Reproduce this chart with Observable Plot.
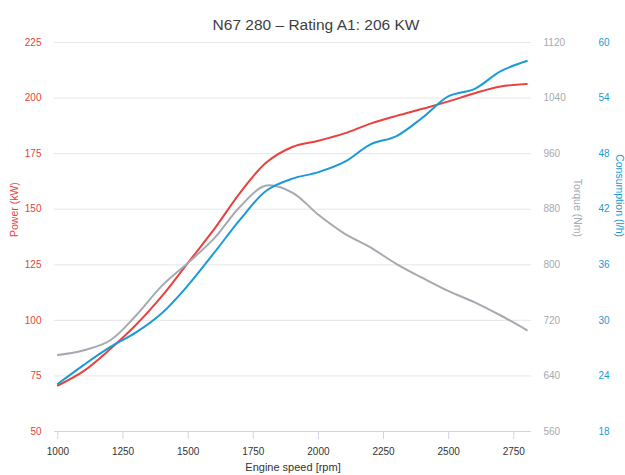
<!DOCTYPE html>
<html>
<head>
<meta charset="utf-8">
<script src="https://cdn.jsdelivr.net/npm/d3@7"></script>
<script src="https://cdn.jsdelivr.net/npm/@observablehq/plot@0.6"></script>
<style>
  html, body { margin: 0; padding: 0; background: #fff; }
  #chart svg { display: block; }
</style>
</head>
<body>
<div id="chart"></div>
<script>
const title = "N67 280 – Rating A1: 206 KW";
const rpm = [1000, 1100, 1200, 1300, 1400, 1500, 1600, 1700, 1800, 1900, 2000, 2100, 2200, 2300, 2400, 2500, 2600, 2700, 2800];
const power = [70.7, 77.3, 87, 98, 111, 126, 141, 157.5, 171, 178, 180.8, 184.1, 188.5, 192, 195.2, 198.5, 202.2, 205.2, 206.3];
const torque = [670, 677, 691, 727, 770, 803, 838, 884, 914, 904, 872, 845, 825, 801, 781, 762, 746, 727, 706];
const consumption = [23.15, 25.2, 27.1, 28.7, 30.8, 33.8, 37.3, 40.9, 44.0, 45.3, 46.0, 47.1, 49.0, 49.9, 51.9, 54.2, 55.0, 56.9, 58.0];
const xTicks = [1000, 1250, 1500, 1750, 2000, 2250, 2500, 2750];
const powerTicks = [50, 75, 100, 125, 150, 175, 200, 225];
const torqueTicks = [560, 640, 720, 800, 880, 960, 1040, 1120];
const consTicks = [18, 24, 30, 36, 42, 48, 54, 60];

const RED = "#e8413e", GRAY = "#a7a9b0", BLUE = "#1a9ad6";
const FONT = "'Liberation Sans', Arial, sans-serif";

// secondary axes share the primary (power) scale through linear maps
const pMin = powerTicks[0], pMax = powerTicks[powerTicks.length - 1];
const tMin = torqueTicks[0], tMax = torqueTicks[torqueTicks.length - 1];
const cMin = consTicks[0], cMax = consTicks[consTicks.length - 1];
const tToP = t => pMin + (t - tMin) * (pMax - pMin) / (tMax - tMin);
const pToT = p => tMin + (p - pMin) * (tMax - tMin) / (pMax - pMin);
const cToP = c => pMin + (c - cMin) * (pMax - pMin) / (cMax - cMin);
const pToC = p => cMin + (p - pMin) * (cMax - cMin) / (pMax - pMin);

const rows = rpm.map((r, i) => ({rpm: r, power: power[i], torque: torque[i], cons: consumption[i]}));

const chart = Plot.plot({
  width: 625,
  height: 475,
  marginLeft: 54,
  marginRight: 94,
  marginTop: 42,
  marginBottom: 44,
  style: {fontFamily: FONT, background: "#fff", overflow: "visible"},
  x: {domain: [987, 2818]},
  y: {domain: [pMin, pMax]},
  marks: [
    Plot.ruleY(powerTicks.slice(1), {stroke: "#e6e6e6", strokeWidth: 1}),
    Plot.ruleY([pMin], {stroke: "#ccd6eb", strokeWidth: 1}),
    Plot.axisX({ticks: xTicks, tickSize: 8, tickPadding: 8, stroke: "#ccd6eb", strokeOpacity: 1,
      tickFormat: d => String(d), fill: "#333", fontSize: 10, label: null}),
    Plot.axisY({anchor: "left", ticks: powerTicks, tickSize: 0, tickPadding: 13,
      tickFormat: d => String(d), fill: RED, fontSize: 10, label: null}),
    Plot.axisY({anchor: "right", ticks: torqueTicks.map(tToP), tickSize: 0, tickPadding: 12,
      tickFormat: d => String(Math.round(pToT(d))), fill: GRAY, fontSize: 10, label: null, textAnchor: "start"}),
    Plot.axisY({anchor: "right", ticks: consTicks.map(cToP), tickSize: 0, tickPadding: 67,
      tickFormat: d => String(Math.round(pToC(d))), fill: BLUE, fontSize: 10, label: null, textAnchor: "start"}),
    Plot.line(rows, {x: "rpm", y: "power", stroke: RED, strokeWidth: 2, curve: "catmull-rom"}),
    Plot.line(rows, {x: "rpm", y: d => tToP(d.torque), stroke: GRAY, strokeWidth: 2, curve: "catmull-rom"}),
    Plot.line(rows, {x: "rpm", y: d => cToP(d.cons), stroke: BLUE, strokeWidth: 2, curve: "catmull-rom"}),
    Plot.text([title], {frameAnchor: "top", dx: 23, dy: -24, fontSize: 15.5, fill: "#3e3e3e", text: d => d}),
    Plot.text(["Power (kW)"], {frameAnchor: "left", dx: -40, rotate: -90, fontSize: 10.5, fill: RED, text: d => d}),
    Plot.text(["Torque (Nm)"], {frameAnchor: "right", dx: 46, rotate: 90, fontSize: 10.5, fill: GRAY, text: d => d}),
    Plot.text(["Consumption (l/h)"], {frameAnchor: "right", dx: 88, rotate: 90, fontSize: 10.5, fill: BLUE, text: d => d}),
    Plot.text(["Engine speed [rpm]"], {frameAnchor: "bottom", dy: 39, fontSize: 11, fill: "#333", text: d => d})
  ]
});
document.getElementById("chart").appendChild(chart);
</script>
</body>
</html>
